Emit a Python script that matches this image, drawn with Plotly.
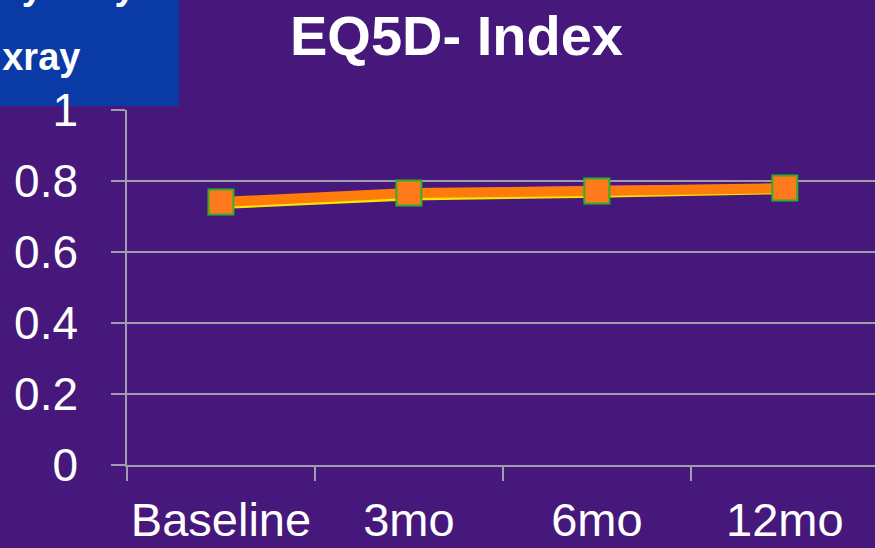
import plotly.graph_objects as go

categories = ["Baseline", "3mo", "6mo", "12mo"]
series_magenta = [0.745, 0.768, 0.779, 0.782]
series_yellow = [0.728, 0.752, 0.760, 0.770]
series_orange = [0.741, 0.766, 0.772, 0.780]
y_ticks = [0, 0.2, 0.4, 0.6, 0.8, 1]
y_tick_labels = ["0", "0.2", "0.4", "0.6", "0.8", "1"]
legend_lines = ["Any Xray", "No xray"]
title_text = "EQ5D- Index"

BG = "#46187c"
GRID = "#a09cab"
FONT = "Liberation Sans, Arial, sans-serif"

fig = go.Figure()
fig.add_trace(go.Scatter(x=categories, y=series_magenta, mode="lines",
                         line=dict(color="#d040c0", width=6), showlegend=False))
fig.add_trace(go.Scatter(x=categories, y=series_yellow, mode="lines",
                         line=dict(color="#f5e800", width=5), showlegend=False))
fig.add_trace(go.Scatter(x=categories, y=series_orange, mode="lines+markers",
                         line=dict(color="#ff7c0a", width=10),
                         marker=dict(symbol="square", size=25, color="#ff7a1c",
                                     line=dict(color="#2fb02a", width=2)),
                         showlegend=False))

W, H = 875, 548
L, T, B = 127, 110, 83
pw = W - L
ph = H - T - B

def px(x):
    return (x - L) / pw

def py(y):
    return (H - B - y) / ph

fig.add_shape(type="rect", xref="paper", yref="paper",
              x0=px(-5), x1=px(179), y0=py(106), y1=py(-5),
              fillcolor="#0a3aa6", line=dict(width=0), layer="below")
fig.add_annotation(xref="paper", yref="paper", x=px(138), y=py(-14),
                   xanchor="right", yanchor="middle", showarrow=False,
                   text=legend_lines[0], font=dict(family=FONT, size=38, color="white", weight="bold"))
fig.add_annotation(xref="paper", yref="paper", x=px(82), y=py(57),
                   xanchor="right", yanchor="middle", showarrow=False,
                   text=legend_lines[1], font=dict(family=FONT, size=38, color="white", weight="bold"))
fig.add_annotation(xref="paper", yref="paper", x=px(456), y=py(35),
                   xanchor="center", yanchor="middle", showarrow=False,
                   text=title_text, font=dict(family=FONT, size=56, color="white", weight="bold"))

fig.update_layout(
    width=W, height=H,
    margin=dict(l=L, r=0, t=T, b=B, pad=0, autoexpand=False),
    paper_bgcolor=BG, plot_bgcolor=BG,
    font=dict(family=FONT, color="white", size=46),
    xaxis=dict(type="category", range=[-0.5, 3.48], showgrid=False, automargin=False,
               tickangle=0,
               tickson="boundaries", ticks="outside", ticklen=14, tickcolor=GRID, tickwidth=1.5,
               showline=True, linecolor=GRID, linewidth=1.5, zeroline=False,
               ticklabelstandoff=13, tickfont=dict(size=47, color="white", family=FONT)),
    yaxis=dict(range=[0, 1], tickvals=y_ticks, ticktext=y_tick_labels, automargin=False,
               showgrid=True, gridcolor=GRID, gridwidth=1.5,
               ticks="outside", ticklen=14, tickcolor=GRID, tickwidth=1.5,
               showline=True, linecolor=GRID, linewidth=1.5, zeroline=False,
               ticklabelstandoff=24, tickfont=dict(size=46, color="white", family=FONT)),
)

fig.write_html("out.html", config={"displayModeBar": False},
               post_script="document.body.style.margin='0';document.body.style.padding='0';document.body.style.overflow='hidden';")
